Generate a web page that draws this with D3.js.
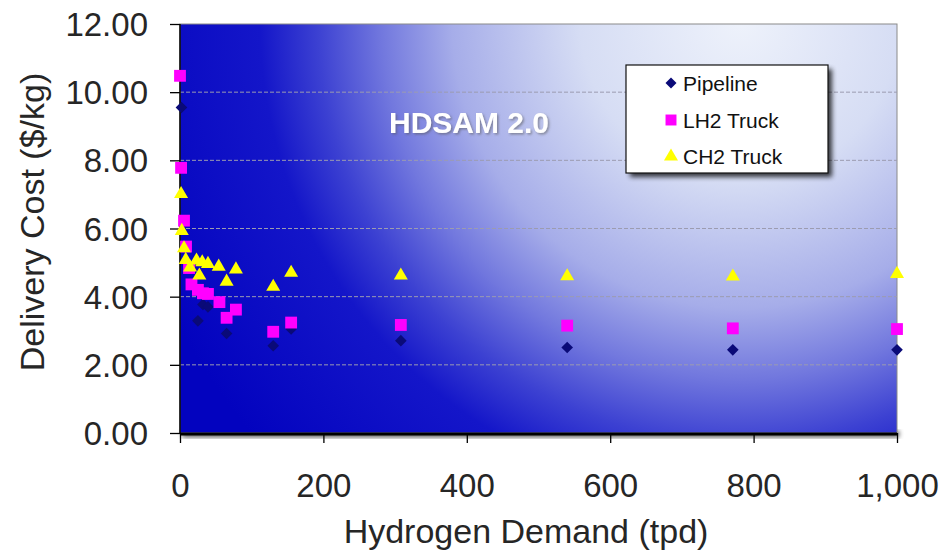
<!DOCTYPE html>
<html><head><meta charset="utf-8">
<script src="https://cdn.jsdelivr.net/npm/d3@7/dist/d3.min.js"></script>
<style>body{margin:0;background:#fff}svg{display:block}</style>
</head><body>
<svg id="c" width="942" height="551"></svg>
<script>
// ---- data ----
const xTicks = [0, 200, 400, 600, 800, 1000];
const yTicks = [0, 2, 4, 6, 8, 10, 12];
const seriesNames = ["Pipeline", "LH2 Truck", "CH2 Truck"];
const pipelineX = [2, 25, 32, 39, 65, 130, 155, 308, 540, 771, 1000];
const pipelineY = [9.55, 3.29, 3.77, 3.70, 2.92, 2.56, 3.05, 2.71, 2.51, 2.44, 2.44];
const lh2X = [0, 1.5, 5.6, 8.4, 12.6, 16, 25, 32, 39, 55, 65, 78, 130, 155, 308, 540, 771, 1000];
const lh2Y = [10.48, 7.78, 6.23, 5.47, 4.84, 4.36, 4.20, 4.10, 4.08, 3.84, 3.38, 3.62, 2.97, 3.24, 3.17, 3.15, 3.07, 3.05];
const ch2X = [1.5, 2.5, 5.6, 8, 14, 23, 27, 31, 39, 54, 65, 78, 130, 155, 308, 540, 771, 1000];
const ch2Y = [7.01, 5.93, 5.42, 5.08, 4.86, 5.06, 4.62, 5.01, 4.96, 4.88, 4.44, 4.80, 4.29, 4.70, 4.62, 4.60, 4.59, 4.67];

const svg = d3.select("#c");
const L = 180, R = 897, T = 24, B = 433;
const x = d3.scaleLinear().domain([0, 1000]).range([L, R]);
const y = d3.scaleLinear().domain([0, 12]).range([B, T]);
const FONT = "Liberation Sans, Arial, sans-serif";

const defs = svg.append("defs");
const rg = defs.append("radialGradient").attr("id", "bg")
  .attr("gradientUnits", "userSpaceOnUse").attr("cx", 740).attr("cy", 20).attr("r", 640);
[[0, "#eef2fb"], [0.25, "#d6ddf4"], [0.45, "#a6ade9"], [0.56, "#7278de"],
 [0.66, "#3c41d2"], [0.75, "#1416c9"], [1, "#0303bf"]].forEach(s =>
  rg.append("stop").attr("offset", s[0]).attr("stop-color", s[1]));
const f = defs.append("filter").attr("id", "blur").attr("x", "-20%").attr("y", "-20%").attr("width", "140%").attr("height", "140%");
f.append("feGaussianBlur").attr("stdDeviation", 2.5);
const f2 = defs.append("filter").attr("id", "tsh").attr("x", "-10%").attr("y", "-30%").attr("width", "120%").attr("height", "160%");
f2.append("feDropShadow").attr("dx", 1.5).attr("dy", 1.5).attr("stdDeviation", 1)
  .attr("flood-color", "#555").attr("flood-opacity", 0.55);

// plot background
svg.append("rect").attr("x", L + 2).attr("y", B - 2).attr("width", R - L).attr("height", 6)
  .attr("fill", "#000").attr("opacity", 0.7).attr("filter", "url(#blur)");
svg.append("rect").attr("x", L).attr("y", T).attr("width", R - L).attr("height", B - T)
  .attr("fill", "url(#bg)").attr("stroke", "#8a8a8a").attr("stroke-width", 1);

// grid
svg.append("g").selectAll("line").data(yTicks.filter(d => d > 0 && d < 12)).join("line")
  .attr("x1", L).attr("x2", R).attr("y1", d => y(d)).attr("y2", d => y(d))
  .attr("stroke", "#9c9cb0").attr("stroke-width", 1).attr("stroke-dasharray", "4,2");

// axes
const yAxis = d3.axisLeft(y).tickValues(yTicks).tickFormat(d3.format(".2f")).tickSize(10).tickPadding(22);
const gy = svg.append("g").attr("transform", `translate(${L},0)`).call(yAxis);
const xAxis = d3.axisBottom(x).tickValues(xTicks).tickFormat(d3.format(",")).tickSize(10).tickPadding(31);
const gx = svg.append("g").attr("transform", `translate(0,${B})`).call(xAxis);
[gx, gy].forEach(g => {
  g.select(".domain").remove();
  g.selectAll(".tick line").attr("stroke", "#000").attr("stroke-width", 1.3);
  g.selectAll("text").attr("font-family", FONT).attr("font-size", 33).attr("fill", "#262626");
});
gy.selectAll(".tick text").attr("dy", "0.35em");
svg.append("line").attr("x1", L).attr("x2", L).attr("y1", T).attr("y2", B).attr("stroke", "#000").attr("stroke-width", 1.5);
svg.append("line").attr("x1", L).attr("x2", R).attr("y1", B + 1).attr("y2", B + 1).attr("stroke", "#000").attr("stroke-width", 3);

// axis titles
svg.append("text").attr("transform", `translate(44,222) rotate(-90)`).attr("text-anchor", "middle")
  .attr("font-family", FONT).attr("font-size", 34).attr("fill", "#262626")
  .text("Delivery Cost ($/kg)");
svg.append("text").attr("x", 526).attr("y", 543).attr("text-anchor", "middle")
  .attr("font-family", FONT).attr("font-size", 34).attr("fill", "#262626")
  .text("Hydrogen Demand (tpd)");

// HDSAM label
svg.append("text").attr("x", 469).attr("y", 133).attr("text-anchor", "middle")
  .attr("font-family", FONT).attr("font-weight", "bold").attr("font-size", 30)
  .attr("fill", "#fff").attr("filter", "url(#tsh)").text("HDSAM 2.0");

// markers
function diamondPath(s) { return `M0,${-s}L${s},0L0,${s}L${-s},0Z`; }
const series = [
  {name: seriesNames[0], xs: pipelineX, ys: pipelineY, path: diamondPath(5.8), lpath: diamondPath(5.5), fill: "#0a0a78"},
  {name: seriesNames[1], xs: lh2X, ys: lh2Y, path: d3.symbol().type(d3.symbolSquare).size(140)(), lpath: d3.symbol().type(d3.symbolSquare).size(120)(), fill: "#ff00ff"},
  {name: seriesNames[2], xs: ch2X, ys: ch2Y, path: d3.symbol().type(d3.symbolTriangle).size(85)(), lpath: d3.symbol().type(d3.symbolTriangle).size(85)(), fill: "#ffff00"}
];
series.forEach(s => {
  svg.append("g").selectAll("path").data(s.xs.map((v, i) => [v, s.ys[i]])).join("path")
    .attr("d", s.path).attr("fill", s.fill)
    .attr("transform", d => `translate(${x(d[0])},${y(d[1])})`);
});

// legend
const lg = svg.append("g");
lg.append("rect").attr("x", 630).attr("y", 69).attr("width", 202).attr("height", 108)
  .attr("fill", "#000").attr("opacity", 0.75).attr("filter", "url(#blur)");
lg.append("rect").attr("x", 626).attr("y", 65).attr("width", 202).attr("height", 108)
  .attr("fill", "#fff").attr("stroke", "#111").attr("stroke-width", 1.2);
const lys = [83, 120, 156.5];
series.forEach((s, i) => {
  lg.append("path").attr("d", s.lpath).attr("fill", s.fill).attr("transform", `translate(671,${lys[i]})`);
  lg.append("text").attr("x", 683).attr("y", lys[i] + 7.5)
    .attr("font-family", FONT).attr("font-size", 21).attr("fill", "#111")
    .text(s.name);
});
</script>
</body></html>
